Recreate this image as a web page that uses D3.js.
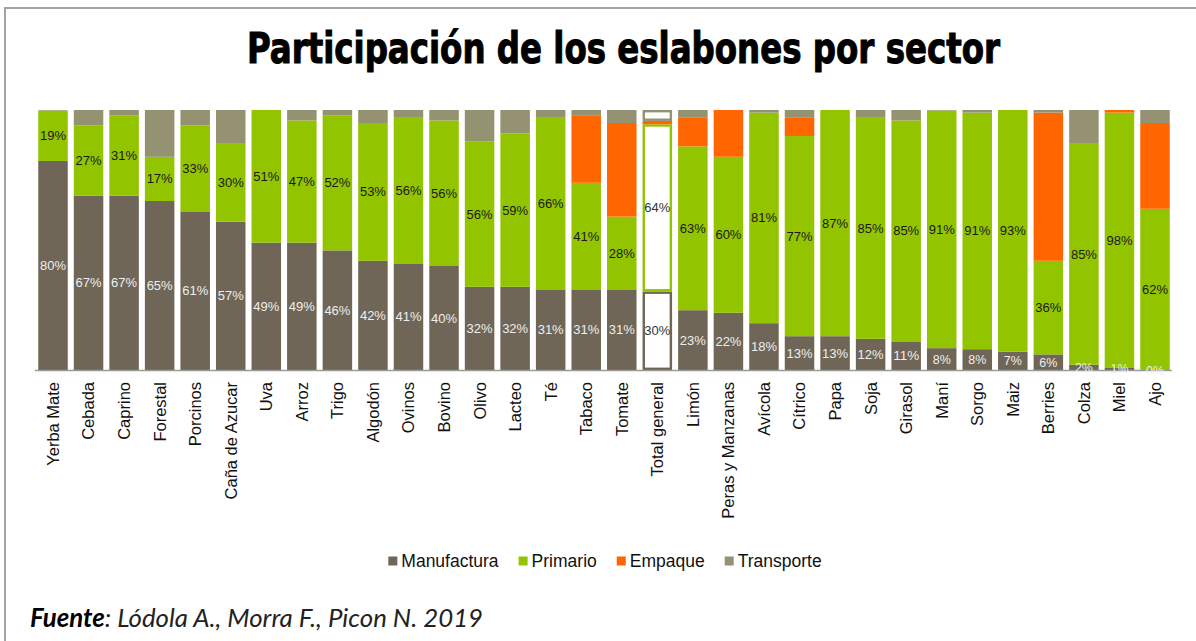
<!DOCTYPE html>
<html>
<head>
<meta charset="utf-8">
<script src="https://cdn.jsdelivr.net/npm/d3@7"></script>
<style>
  body { margin: 0; background: #fff; }
  svg { display: block; }
</style>
</head>
<body>
<svg id="chart" width="1196" height="641"></svg>
<script>
"use strict";

// ─── Data (% per link of the chain) ──────────────────────────────────────────
const categories = [
  "Yerba Mate", "Cebada", "Caprino", "Forestal", "Porcinos", "Caña de Azucar",
  "Uva", "Arroz", "Trigo", "Algodón", "Ovinos", "Bovino", "Olivo", "Lacteo",
  "Té", "Tabaco", "Tomate", "Total general", "Limón", "Peras y Manzanas",
  "Avícola", "Cítrico", "Papa", "Soja", "Girasol", "Maní", "Sorgo", "Maiz",
  "Berries", "Colza", "Miel", "Ajo"
];
const manufactura = [80.4, 67, 67, 65, 61, 57, 49, 49, 46, 42, 41, 40, 32, 32, 31, 31, 31, 30.2, 23, 22, 18, 13, 13, 12, 11, 8.4, 8, 7, 6, 2, 1, 0];
const primario    = [19.4, 27, 31, 17, 33, 30, 51, 47, 52, 53, 56, 56, 56, 59, 66, 41, 28, 64.3, 63, 60, 81, 77, 87, 85, 85, 91.4, 91, 93, 36, 85, 98, 62];
const empaque     = [0, 0, 0, 0, 0, 0, 0, 0, 0, 0, 0, 0, 0, 0, 0, 26, 36, 1.3, 11, 18, 0, 7, 0, 0, 0, 0, 0, 0, 57, 0, 1, 33];
const transporte  = [0.2, 6, 2, 18, 6, 13, 0, 4, 2, 5, 3, 4, 12, 9, 3, 2, 5, 4.2, 3, 0, 1, 3, 0, 3, 4, 0.2, 1, 0, 1, 13, 0, 5];

const seriesNames  = ["Manufactura", "Primario", "Empaque", "Transporte"];
const seriesValues = [manufactura, primario, empaque, transporte];
const seriesColors = ["#6f6657", "#93c400", "#ff6600", "#959272"];
const labelled     = { Manufactura: "#eeeeee", Primario: "#1a1a1a" }; // label colour per series
const highlight    = "Total general";

const titleText = "Participación de los eslabones por sector";

// ─── Layout ───────────────────────────────────────────────────────────────────
const W = 1196, H = 641;
const plot = { left: 32.2, right: 1175.8, top: 110, bottom: 370 };

const svg = d3.select("#chart");

// frame
svg.append("path")
  .attr("d", `M5,${H + 2} V8 H${W + 2}`)
  .attr("fill", "none")
  .attr("stroke", "#a3a3a3")
  .attr("stroke-width", 2);

// title
svg.append("text")
  .attr("x", 623.5)
  .attr("y", 63)
  .attr("text-anchor", "middle")
  .attr("textLength", 753)
  .attr("lengthAdjust", "spacingAndGlyphs")
  .style("font-family", "'Liberation Sans Narrow', 'DejaVu Sans Condensed', 'Arial Narrow', sans-serif")
  .style("font-weight", "bold")
  .style("font-size", "43px")
  .style("stroke", "#000")
  .style("stroke-width", 1)
  .attr("fill", "#000")
  .text(titleText);

const rows = categories.map((c, i) => {
  const r = { cat: c };
  seriesNames.forEach((s, k) => { r[s] = seriesValues[k][i]; });
  return r;
});

const x = d3.scaleBand()
  .domain(categories)
  .range([plot.left, plot.right])
  .padding(0.17);

const y = d3.scaleLinear()
  .domain([0, 100])
  .range([plot.bottom, plot.top]);

const color = d3.scaleOrdinal().domain(seriesNames).range(seriesColors);

const stacked = d3.stack().keys(seriesNames)(rows);

const layers = svg.append("g").attr("class", "layers")
  .selectAll("g")
  .data(stacked)
  .join("g")
  .attr("data-series", d => d.key);

// normal bars are filled; the "Total general" bar is drawn as outlines only
layers.selectAll("rect")
  .data(d => d.map(p => Object.assign(p, { key: d.key })))
  .join("rect")
  .each(function (d) {
    const h = y(d[0]) - y(d[1]);
    const sel = d3.select(this);
    if (h <= 0) { sel.remove(); return; }
    if (d.data.cat === highlight) {
      const sw = 2.4;
      sel.attr("x", x(d.data.cat) + sw / 2)
        .attr("width", x.bandwidth() - sw)
        .attr("y", y(d[1]) + sw / 2)
        .attr("height", Math.max(h - sw, 0.5))
        .attr("fill", "#fff")
        .attr("stroke", color(d.key))
        .attr("stroke-width", sw);
    } else {
      sel.attr("x", x(d.data.cat))
        .attr("width", x.bandwidth())
        .attr("y", y(d[1]))
        .attr("height", h)
        .attr("fill", color(d.key));
    }
  });

// baseline
svg.append("line")
  .attr("x1", 35).attr("x2", 1172)
  .attr("y1", plot.bottom + 0.5).attr("y2", plot.bottom + 0.5)
  .attr("stroke", "#9a9a9a")
  .attr("stroke-width", 1.5);

// value labels (Manufactura + Primario only, like the original)
const lbl = svg.append("g").attr("class", "labels")
  .style("font-family", "'Liberation Sans', Arial, sans-serif")
  .style("font-size", "13px");

stacked.filter(s => labelled[s.key]).forEach(s => {
  lbl.selectAll(null)
    .data(s)
    .join("text")
    .attr("x", d => x(d.data.cat) + x.bandwidth() / 2)
    .attr("y", d => y((d[0] + d[1]) / 2))
    .attr("dy", "0.35em")
    .attr("text-anchor", "middle")
    .attr("fill", d => d.data.cat === highlight ? "#333" : labelled[s.key])
    .attr("textLength", d => Math.round(d[1] - d[0]) < 10 ? 18 : 26)
    .attr("lengthAdjust", "spacingAndGlyphs")
    .text(d => `${Math.round(d[1] - d[0])}%`);
});

// category axis, labels rotated
const xAxis = svg.append("g")
  .attr("transform", `translate(0,${plot.bottom})`)
  .call(d3.axisBottom(x).tickSize(0).tickPadding(0));
xAxis.select(".domain").remove();
xAxis.selectAll("text")
  .attr("transform", "rotate(-90)")
  .attr("x", -12)
  .attr("y", 0)
  .attr("dy", "0.36em")
  .attr("text-anchor", "end")
  .attr("fill", "#111")
  .style("font-family", "'Liberation Sans', Arial, sans-serif")
  .style("font-size", "16.5px");

// legend
const legend = svg.append("g").attr("class", "legend")
  .style("font-family", "'Liberation Sans', Arial, sans-serif")
  .style("font-size", "17.5px");
let lx = 0;
seriesNames.forEach(name => {
  const g = legend.append("g").attr("transform", `translate(${lx},0)`);
  g.append("rect")
    .attr("x", 0).attr("y", -4.5)
    .attr("width", 9).attr("height", 9)
    .attr("fill", color(name));
  const t = g.append("text")
    .attr("x", 13).attr("dy", "0.36em")
    .attr("fill", "#111")
    .text(name);
  lx += 13 + t.node().getComputedTextLength() + 20;
});
const legendW = lx - 20;
legend.attr("transform", `translate(${605 - legendW / 2},561)`);

// source
const src = svg.append("text")
  .attr("x", 30)
  .attr("y", 627)
  .style("font-family", "Lato, 'Open Sans', sans-serif")
  .style("font-style", "italic")
  .style("font-size", "25.8px");
src.append("tspan").attr("font-weight", "bold").attr("fill", "#000").text("Fuente");
src.append("tspan").attr("fill", "#222").text(": Lódola A., Morra F., Picon N. 2019");
</script>
</body>
</html>
